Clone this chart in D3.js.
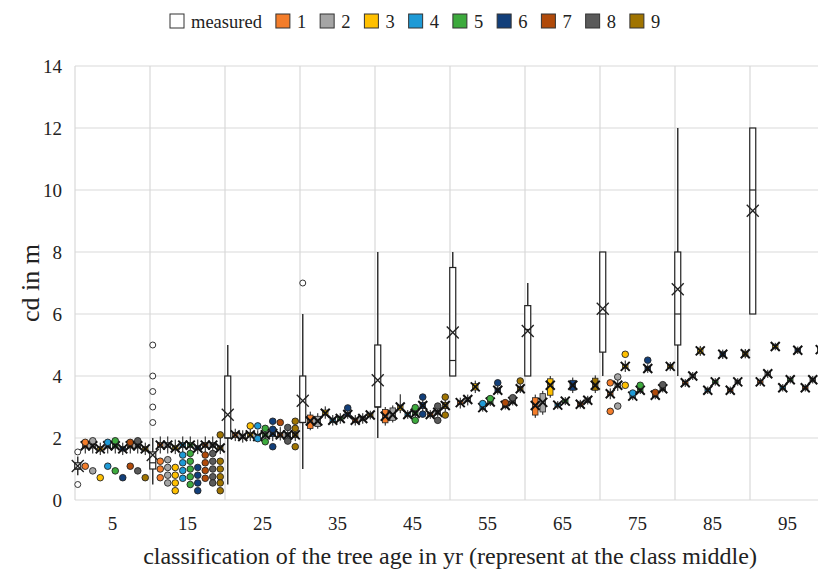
<!DOCTYPE html>
<html>
<head>
<meta charset="utf-8">
<script src="https://cdn.jsdelivr.net/npm/d3@7"></script>
<style>
  body { margin: 0; background: #fff; }
  svg { display: block; font-family: "Liberation Serif", "Times New Roman", serif; }
</style>
</head>
<body>
<div id="chart"></div>
<script>
// chart size
var width = 818;
var height = 570;

// categories = age classes (class middle)
var categories = ["5", "15", "25", "35", "45", "55", "65", "75", "85", "95"];
var seriesNames = ["measured", "1", "2", "3", "4", "5", "6", "7", "8", "9"];
var seriesColors = ["#FFFFFF", "#F47D2A", "#A5A5A5", "#FFC000", "#1E9AD6", "#3DAA3D", "#123F7A", "#B04A0A", "#5A5A5A", "#A07400"];
var yTicks = [0, 2, 4, 6, 8, 10, 12, 14];

// measured boxes, one value per class
var measMin  = [0.8, 0.5, 0.5, 1.0, 2.0, 4.0, 4.0, 4.0, 4.0, 6.0];
var measQ1   = [1.0, 1.0, 2.0, 2.5, 3.0, 4.0, 4.0, 4.77, 5.0, 6.0];
var measMed  = [1.0, 1.2, 2.0, 2.5, 3.0, 4.5, 5.5, 6.0, 6.0, 10.0];
var measQ3   = [1.2, 1.55, 4.0, 4.0, 5.0, 7.5, 6.27, 8.0, 8.0, 12.0];
var measMax  = [1.4, 2.0, 5.0, 6.0, 8.0, 8.0, 7.0, 8.0, 12.0, 12.0];
var measMean = [1.1, 1.45, 2.75, 3.2, 3.86, 5.4, 5.45, 6.17, 6.8, 9.33];
// [class index, value]
var measOutliers = [[0, 0.5], [0, 1.55], [1, 2.5], [1, 3.0], [1, 3.5], [1, 4.0], [1, 5.0], [3, 7.0]];

// simulated series 1..9 (rows), classes (columns)
var simMean = [
  [1.75, 1.77, 2.10, 2.55, 2.70, 3.14, 3.05, 3.43, 3.78, 3.81],
  [1.75, 1.77, 2.05, 2.55, 2.75, 3.24, 3.15, 3.70, 4.00, 4.07],
  [1.65, 1.68, 2.10, 2.80, 3.00, 3.65, 3.70, 4.31, 4.81, 4.95],
  [1.75, 1.77, 2.05, 2.57, 2.76, 2.98, 3.06, 3.35, 3.54, 3.62],
  [1.75, 1.77, 2.10, 2.63, 2.80, 3.16, 3.19, 3.54, 3.81, 3.88],
  [1.65, 1.68, 2.15, 2.76, 3.05, 3.54, 3.70, 4.24, 4.70, 4.83],
  [1.75, 1.77, 2.10, 2.57, 2.76, 3.05, 3.09, 3.38, 3.54, 3.62],
  [1.75, 1.77, 2.10, 2.63, 2.83, 3.18, 3.22, 3.59, 3.81, 3.88],
  [1.65, 1.68, 2.10, 2.74, 3.05, 3.59, 3.70, 4.31, 4.72, 4.85]
];
var simQ1 = [
  [1.68, 1.70, 2.02, 2.31, 2.49, 3.08, 2.74, 3.38, 3.74, 3.77],
  [1.68, 1.70, 1.98, 2.37, 2.57, 3.18, 2.84, 3.64, 3.95, 4.02],
  [1.58, 1.62, 2.03, 2.74, 2.90, 3.55, 3.38, 4.25, 4.72, 4.90],
  [1.68, 1.70, 1.98, 2.50, 2.70, 2.92, 3.00, 3.30, 3.50, 3.58],
  [1.68, 1.70, 2.03, 2.56, 2.74, 3.10, 3.13, 3.49, 3.77, 3.84],
  [1.58, 1.62, 2.05, 2.70, 2.95, 3.47, 3.54, 4.18, 4.62, 4.78],
  [1.68, 1.70, 2.03, 2.50, 2.70, 2.99, 3.02, 3.33, 3.50, 3.58],
  [1.68, 1.70, 2.03, 2.56, 2.77, 3.12, 3.15, 3.54, 3.77, 3.84],
  [1.58, 1.62, 2.02, 2.68, 2.95, 3.52, 3.54, 4.25, 4.64, 4.80]
];
var simQ3 = [
  [1.82, 1.85, 2.18, 2.74, 2.92, 3.20, 3.30, 3.48, 3.82, 3.85],
  [1.82, 1.85, 2.12, 2.70, 2.97, 3.30, 3.43, 3.76, 4.05, 4.12],
  [1.72, 1.75, 2.17, 2.90, 3.06, 3.75, 3.91, 4.37, 4.90, 5.00],
  [1.82, 1.85, 2.12, 2.64, 2.82, 3.04, 3.12, 3.40, 3.58, 3.66],
  [1.82, 1.85, 2.17, 2.70, 2.86, 3.22, 3.25, 3.59, 3.85, 3.92],
  [1.72, 1.75, 2.25, 2.82, 3.15, 3.61, 3.86, 4.30, 4.78, 4.88],
  [1.82, 1.85, 2.17, 2.64, 2.82, 3.11, 3.16, 3.43, 3.58, 3.66],
  [1.82, 1.85, 2.17, 2.70, 2.89, 3.24, 3.29, 3.64, 3.85, 3.92],
  [1.72, 1.75, 2.18, 2.80, 3.15, 3.66, 3.93, 4.37, 4.80, 4.90]
];
var simLow = [
  [1.50, 1.50, 1.90, 2.25, 2.40, 2.95, 2.65, 3.25, 3.65, 3.68],
  [1.50, 1.50, 1.85, 2.30, 2.50, 3.05, 2.75, 3.52, 3.87, 3.94],
  [1.45, 1.48, 1.90, 2.62, 2.80, 3.45, 3.30, 4.13, 4.65, 4.83],
  [1.50, 1.50, 1.88, 2.40, 2.62, 2.85, 2.93, 3.22, 3.42, 3.50],
  [1.50, 1.52, 1.95, 2.46, 2.66, 3.03, 3.06, 3.42, 3.69, 3.76],
  [1.45, 1.48, 1.90, 2.62, 2.85, 3.40, 3.45, 4.10, 4.55, 4.71],
  [1.50, 1.50, 1.92, 2.40, 2.62, 2.92, 2.95, 3.25, 3.42, 3.50],
  [1.50, 1.52, 1.95, 2.46, 2.69, 3.05, 3.08, 3.47, 3.69, 3.76],
  [1.45, 1.48, 1.90, 2.60, 2.85, 3.45, 3.45, 4.17, 4.57, 4.73]
];
var simHigh = [
  [1.95, 2.05, 2.30, 2.85, 3.00, 3.30, 3.40, 3.60, 3.90, 3.93],
  [1.95, 2.05, 2.25, 2.80, 3.05, 3.40, 3.52, 3.88, 4.13, 4.20],
  [1.85, 1.95, 2.30, 3.02, 3.41, 3.85, 4.00, 4.50, 4.97, 5.07],
  [1.95, 2.05, 2.25, 2.74, 2.90, 3.10, 3.19, 3.48, 3.66, 3.74],
  [1.95, 2.05, 2.25, 2.80, 2.94, 3.29, 3.32, 3.66, 3.93, 4.00],
  [1.85, 1.95, 2.40, 2.90, 3.22, 3.68, 3.95, 4.38, 4.85, 4.95],
  [1.95, 2.05, 2.35, 2.74, 2.90, 3.18, 3.23, 3.51, 3.66, 3.74],
  [1.95, 2.05, 2.25, 2.80, 2.97, 3.31, 3.36, 3.71, 3.93, 4.00],
  [1.85, 2.05, 2.35, 2.88, 3.22, 3.73, 4.02, 4.45, 4.87, 4.97]
];
// [series 1..9, class index, value]
var simOutliers = [
  [1,0,1.86],[1,0,1.09],[2,0,1.91],[2,0,0.94],[3,0,0.72],[4,0,1.86],[4,0,1.09],
  [5,0,1.91],[5,0,0.94],[6,0,0.72],[7,0,1.86],[7,0,1.09],[8,0,1.91],[8,0,0.94],[9,0,0.72],
  [1,1,1.25],[1,1,1.0],[1,1,0.72],
  [2,1,1.3],[2,1,1.05],[2,1,0.8],[2,1,0.55],
  [3,1,1.05],[3,1,0.8],[3,1,0.55],[3,1,0.3],
  [4,1,1.45],[4,1,1.2],[4,1,0.95],[4,1,0.7],
  [5,1,1.5],[5,1,1.25],[5,1,1.0],[5,1,0.75],[5,1,0.5],
  [6,1,1.05],[6,1,0.8],[6,1,0.55],[6,1,0.3],
  [7,1,1.45],[7,1,1.2],[7,1,0.95],[7,1,0.7],
  [8,1,1.5],[8,1,1.25],[8,1,1.0],[8,1,0.75],[8,1,0.55],
  [9,1,2.1],[9,1,1.25],[9,1,1.0],[9,1,0.75],[9,1,0.55],[9,1,0.3],
  [3,2,2.39],[4,2,2.39],[4,2,1.98],[5,2,2.31],[5,2,1.88],[6,2,2.54],[6,2,2.28],[6,2,1.72],
  [7,2,2.5],[8,2,2.34],[8,2,1.9],[9,2,2.54],[9,2,2.31],[9,2,1.72],
  [6,3,2.97],
  [5,4,2.98],[5,4,2.57],[6,4,3.32],[6,4,2.77],[8,4,3.03],[8,4,2.57],[9,4,3.32],[9,4,2.74],
  [4,5,3.11],[5,5,3.27],[6,5,3.78],[7,5,3.14],[8,5,3.30],[9,5,3.84],
  [1,7,3.78],[1,7,2.86],[2,7,3.97],[2,7,3.03],[3,7,4.70],[3,7,3.70],[4,7,3.45],
  [5,7,3.70],[6,7,4.51],[7,7,3.47],[8,7,3.72]
];

var svg = d3.select("#chart").append("svg")
  .attr("width", width)
  .attr("height", height);

// scales: plot runs past the right edge of the picture (cropped like the original)
var x = d3.scaleBand().domain(categories).range([75, 825]).padding(0);
var slot = d3.scaleBand().domain(d3.range(seriesNames.length)).range([0, x.bandwidth()]).padding(0);
var y = d3.scaleLinear().domain([0, 14]).range([500, 66]);

function cx(c, s) {
  return x(categories[c]) + slot(s) + slot.bandwidth() / 2 - 1;
}

// gridlines
var grid = svg.append("g").attr("stroke", "#D9D9D9").attr("stroke-width", 1.2);
grid.selectAll(".hg").data(yTicks).join("line")
  .attr("x1", 75).attr("x2", 825)
  .attr("y1", d => y(d)).attr("y2", d => y(d));
grid.selectAll(".vg").data(categories).join("line")
  .attr("x1", d => x(d)).attr("x2", d => x(d))
  .attr("y1", y(14)).attr("y2", y(0));

// axes (labels only)
var xAxis = svg.append("g")
  .attr("transform", "translate(0," + y(0) + ")")
  .call(d3.axisBottom(x).tickSize(0).tickPadding(17));
xAxis.select(".domain").remove();
xAxis.selectAll("text").attr("font-size", 19).attr("font-family", "Liberation Serif").attr("fill", "#222");

var yAxis = svg.append("g")
  .attr("transform", "translate(75,0)")
  .call(d3.axisLeft(y).tickValues(yTicks).tickSize(0).tickPadding(13));
yAxis.select(".domain").remove();
yAxis.selectAll("text").attr("font-size", 19).attr("font-family", "Liberation Serif").attr("fill", "#222");

// axis titles
svg.append("text")
  .attr("x", 450).attr("y", 564)
  .attr("text-anchor", "middle")
  .attr("font-size", 24)
  .attr("fill", "#222")
  .text("classification of the tree age in yr (represent at the class middle)");

svg.append("text")
  .attr("transform", "translate(39," + ((y(0) + y(14)) / 2) + ") rotate(-90)")
  .attr("text-anchor", "middle")
  .attr("font-size", 26)
  .attr("fill", "#222")
  .text("cd in m");

// marker helpers
function drawX(g, px, py, r, w, col) {
  g.append("path")
    .attr("d", "M" + (px - r) + "," + (py - r) + "L" + (px + r) + "," + (py + r) +
               "M" + (px - r) + "," + (py + r) + "L" + (px + r) + "," + (py - r))
    .attr("stroke", col).attr("stroke-width", w).attr("fill", "none");
}

var plot = svg.append("g");

// measured series
var mg = plot.append("g");
categories.forEach(function(c, i) {
  var px = cx(i, 0);
  var bw = 6;
  mg.append("line")
    .attr("x1", px).attr("x2", px)
    .attr("y1", y(measMax[i])).attr("y2", y(measMin[i]))
    .attr("stroke", "#333").attr("stroke-width", 1.5);
  mg.append("rect")
    .attr("x", px - bw / 2).attr("width", bw)
    .attr("y", y(measQ3[i])).attr("height", Math.max(0.5, y(measQ1[i]) - y(measQ3[i])))
    .attr("fill", "#fff").attr("stroke", "#222").attr("stroke-width", 1.2);
  mg.append("line")
    .attr("x1", px - bw / 2).attr("x2", px + bw / 2)
    .attr("y1", y(measMed[i])).attr("y2", y(measMed[i]))
    .attr("stroke", "#222").attr("stroke-width", 1.2);
  drawX(mg, px, y(measMean[i]), 6, 1.4, "#222");
});
mg.selectAll("circle").data(measOutliers).join("circle")
  .attr("cx", d => cx(d[0], 0))
  .attr("cy", d => y(d[1]))
  .attr("r", 3)
  .attr("fill", "#fff").attr("stroke", "#333").attr("stroke-width", 1);

// simulated series 1..9
for (var s = 1; s < seriesNames.length; s++) {
  var sg = plot.append("g");
  for (var i = 0; i < categories.length; i++) {
    var px = cx(i, s);
    var bw = 5.5;
    sg.append("line")
      .attr("x1", px).attr("x2", px)
      .attr("y1", y(simHigh[s - 1][i])).attr("y2", y(simLow[s - 1][i]))
      .attr("stroke", "#111").attr("stroke-width", 1);
    sg.append("rect")
      .attr("x", px - bw / 2).attr("width", bw)
      .attr("y", y(simQ3[s - 1][i])).attr("height", y(simQ1[s - 1][i]) - y(simQ3[s - 1][i]))
      .attr("fill", seriesColors[s]).attr("stroke", "#222").attr("stroke-width", 0.8);
    drawX(sg, px, y(simMean[s - 1][i]), 4.5, 2, "#111");
  }
  sg.selectAll("circle").data(simOutliers.filter(d => d[0] == s)).join("circle")
    .attr("cx", d => cx(d[1], s))
    .attr("cy", d => y(d[2]))
    .attr("r", 3.3)
    .attr("fill", seriesColors[s]).attr("stroke", "#222").attr("stroke-width", 0.9);
}

// legend
var legend = svg.append("g").attr("font-size", 18.5).attr("fill", "#222");
var lx = 170;
seriesNames.forEach(function(name, i) {
  legend.append("rect")
    .attr("x", lx).attr("y", 14)
    .attr("width", 14).attr("height", 14)
    .attr("fill", seriesColors[i])
    .attr("stroke", "#333").attr("stroke-width", 1);
  var t = legend.append("text")
    .attr("x", lx + 21).attr("y", 28)
    .text(name);
  lx += 21 + t.node().getComputedTextLength() + 14;
});
</script>
</body>
</html>
